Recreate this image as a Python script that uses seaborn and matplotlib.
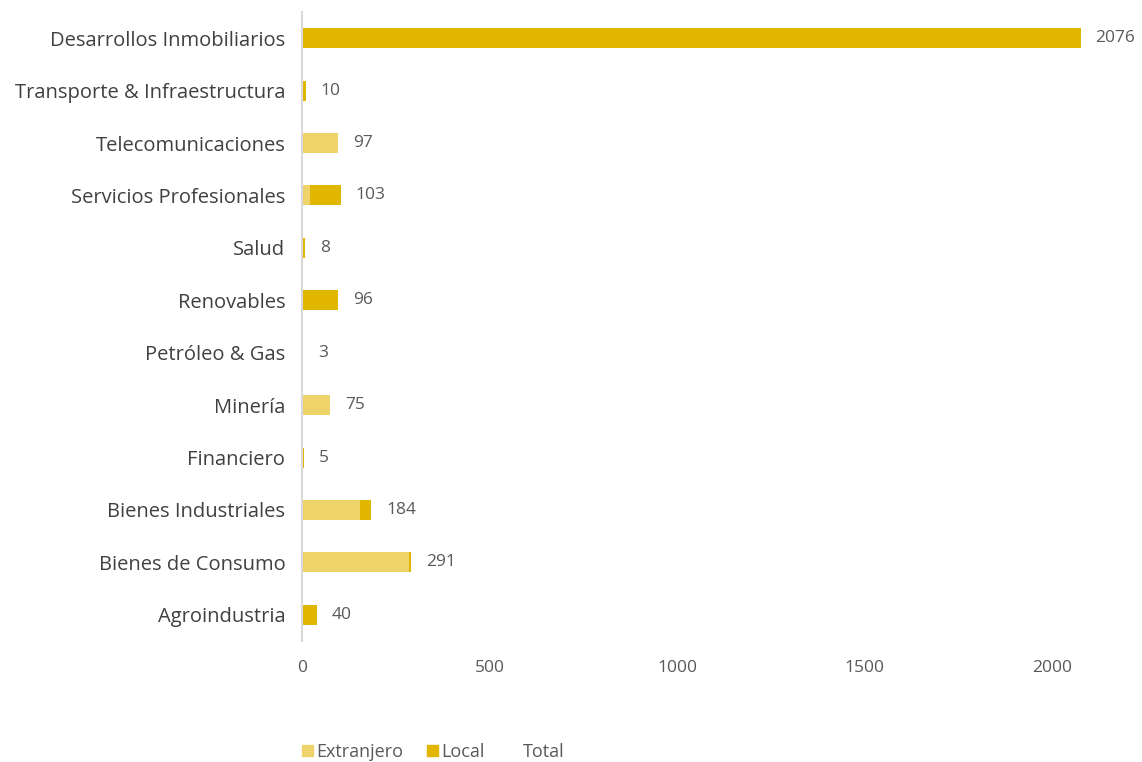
import matplotlib
matplotlib.use("Agg")
import matplotlib.pyplot as plt
import seaborn as sns
import pandas as pd
from matplotlib.patches import Patch

categories = ["Desarrollos Inmobiliarios", "Transporte & Infraestructura", "Telecomunicaciones",
              "Servicios Profesionales", "Salud", "Renovables", "Petróleo & Gas", "Minería",
              "Financiero", "Bienes Industriales", "Bienes de Consumo", "Agroindustria"]
extranjero = [0, 0, 97, 22, 0, 0, 3, 75, 0, 155, 285, 0]
local = [2076, 10, 0, 81, 8, 96, 0, 0, 5, 29, 6, 40]
total = [e + l for e, l in zip(extranjero, local)]

c_ext = "#EDD36A"
c_loc = "#E1B600"

sns.set_theme(style="white")
plt.rcParams['font.family'] = ['Open Sans', 'DejaVu Sans']

df = pd.DataFrame({"cat": categories, "Extranjero": extranjero, "Local": local, "Total": total})

fig = plt.figure(figsize=(11.42, 7.62), dpi=100)
ax = fig.add_axes([302/1142, 1 - 641/762, 825/1142, (641-12)/762])

sns.barplot(data=df, y="cat", x="Total", color=c_loc, orient="h", width=0.38, ax=ax,
            saturation=1, linewidth=0)
sns.barplot(data=df, y="cat", x="Extranjero", color=c_ext, orient="h", width=0.38, ax=ax,
            saturation=1, linewidth=0)

for i, t in enumerate(total):
    ax.text(t + 40, i, f"{t}", va="center", ha="left", fontsize=12.5, color="#595959")

ax.set_xlim(0, 2200)
ax.set_xticks([0, 500, 1000, 1500, 2000])
ax.set_xlabel("")
ax.set_ylabel("")
ax.tick_params(axis="y", labelsize=14.5, labelcolor="#404040", length=0, pad=12)
ax.tick_params(axis="x", labelsize=12.5, labelcolor="#595959", length=0, pad=14)
for s in ["top", "right", "bottom"]:
    ax.spines[s].set_visible(False)
ax.spines["left"].set_color("#D9D9D9")
ax.spines["left"].set_linewidth(1.5)

handles = [Patch(color=c_ext, label="Extranjero"), Patch(color=c_loc, label="Local"),
           Patch(color="none", label="Total")]
fig.legend(handles=handles, loc="center", bbox_to_anchor=(433/1142, 1 - 752/762), ncol=3,
           frameon=False, fontsize=13, handlelength=0.6, handleheight=0.6, handletextpad=0.2,
           columnspacing=1.3, labelcolor="#595959")

fig.savefig("out.png", dpi=100)
